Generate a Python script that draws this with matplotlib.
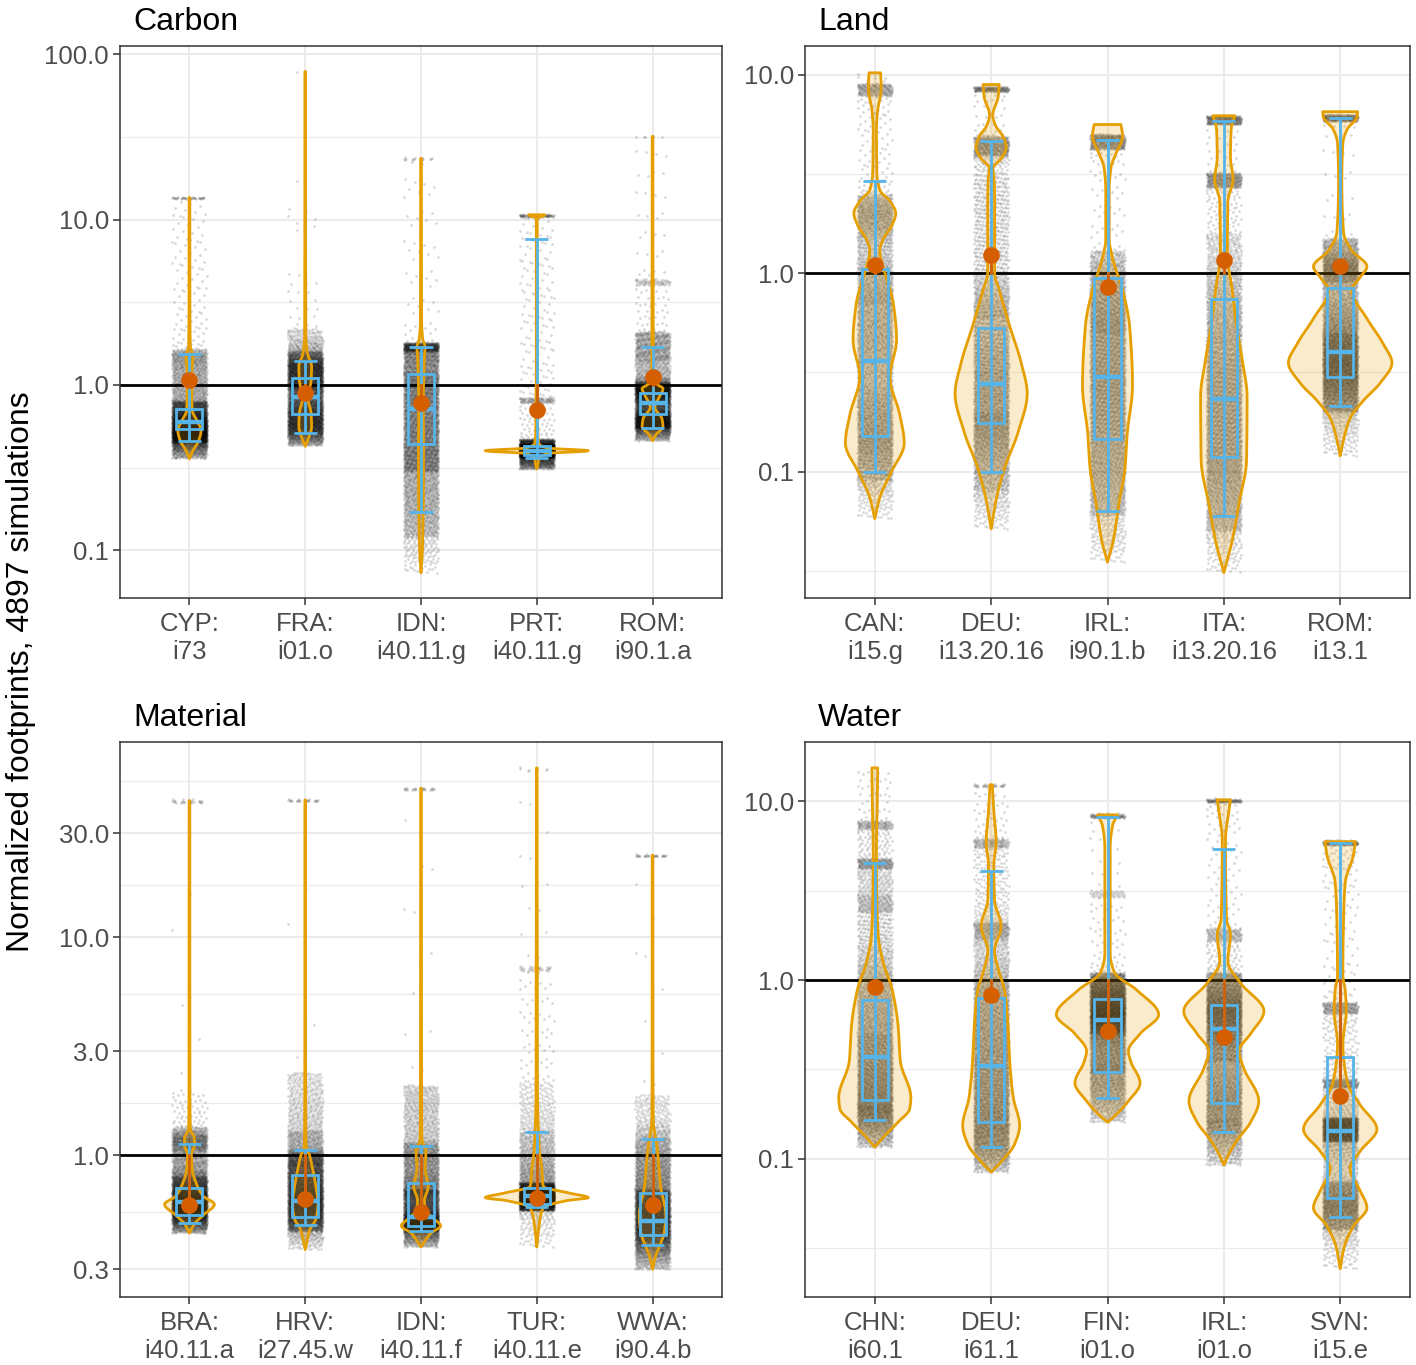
import numpy as np
import matplotlib.pyplot as plt
from matplotlib.colors import to_rgba
from matplotlib.patches import Rectangle

plt.rcParams['font.family'] = ['Liberation Sans', 'DejaVu Sans']

ORANGE = '#E69F00'
BLUE = '#56B4E9'
VERMILION = '#D55E00'
W, H = 1416, 1365

# ---------------- Carbon ----------------
carbon_labels = ['CYP:\ni73', 'FRA:\ni01.o', 'IDN:\ni40.11.g', 'PRT:\ni40.11.g', 'ROM:\ni90.1.a']
carbon_lo = [0.46, 0.51, 0.17, 0.36, 0.55]
carbon_q1 = [0.545, 0.67, 0.44, 0.376, 0.67]
carbon_med = [0.60, 0.85, 0.72, 0.40, 0.78]
carbon_q3 = [0.717, 1.10, 1.16, 0.43, 0.90]
carbon_hi = [1.53, 1.40, 1.69, 7.6, 1.69]
carbon_mean = [1.07, 0.90, 0.78, 0.71, 1.12]
# violin outline: (value, half width in category units)
carbon_violin = [
    [(0.357, 0), (0.40, 0.03), (0.46, 0.08), (0.53, 0.10), (0.60, 0.07), (0.70, 0.025), (0.85, 0.02),
     (1.2, 0.02), (1.5, 0.03), (1.7, 0.008), (3.0, 0.004), (13.6, 0.003)],
    [(0.425, 0), (0.48, 0.03), (0.56, 0.055), (0.68, 0.05), (0.85, 0.02), (1.05, 0.05), (1.3, 0.055),
     (1.55, 0.02), (2.0, 0.005), (78.8, 0.003)],
    [(0.073, 0), (0.1, 0.012), (0.2, 0.02), (0.4, 0.022), (0.8, 0.02), (1.2, 0.025), (1.5, 0.03),
     (1.7, 0.035), (1.9, 0.015), (2.5, 0.005), (23.5, 0.003)],
    [(0.31, 0), (0.33, 0.01), (0.36, 0.02), (0.385, 0.1), (0.40, 0.445), (0.415, 0.1), (0.44, 0.02),
     (0.5, 0.01), (0.8, 0.006), (1.5, 0.004), (10.2, 0.004), (10.5, 0.05), (10.7, 0.07)],
    [(0.46, 0), (0.5, 0.03), (0.56, 0.09), (0.63, 0.08), (0.73, 0.02), (0.85, 0.06), (0.95, 0.09),
     (1.02, 0.03), (1.15, 0.008), (4.0, 0.005), (4.2, 0.008), (4.4, 0.004), (31.9, 0.003)],
]
# simulation clouds: (low, high, count)
carbon_cloud = [
    [(0.36, 0.45, 500), (0.45, 0.80, 3400), (0.80, 1.65, 850), (1.65, 13.0, 110), (13.4, 13.8, 37)],
    [(0.43, 0.5, 300), (0.5, 1.6, 4300), (1.6, 2.2, 220), (2.2, 5.0, 20), (8.5, 12, 8), (17, 18, 2), (78, 80, 2)],
    [(0.073, 0.12, 120), (0.12, 0.3, 900), (0.3, 1.2, 2700), (1.2, 1.6, 500), (1.6, 1.8, 500), (1.8, 23, 60), (23, 24, 15)],
    [(0.31, 0.37, 600), (0.37, 0.44, 3300), (0.44, 0.47, 300), (0.47, 0.78, 60), (0.78, 0.84, 90), (0.84, 10.3, 150), (10.4, 10.8, 80)],
    [(0.46, 0.55, 400), (0.55, 1.05, 3300), (1.05, 1.4, 300), (1.4, 2.1, 500), (2.1, 4.0, 40), (4.0, 4.4, 60), (4.4, 31, 30), (31.5, 32.3, 6)],
]

# ---------------- Land ----------------
land_labels = ['CAN:\ni15.g', 'DEU:\ni13.20.16', 'IRL:\ni90.1.b', 'ITA:\ni13.20.16', 'ROM:\ni13.1']
land_lo = [0.10, 0.10, 0.063, 0.0595, 0.213]
land_q1 = [0.152, 0.175, 0.146, 0.119, 0.30]
land_med = [0.36, 0.275, 0.30, 0.233, 0.40]
land_q3 = [1.05, 0.53, 0.95, 0.74, 0.84]
land_hi = [2.9, 4.6, 4.68, 5.8, 6.05]
land_mean = [1.10, 1.24, 0.85, 1.17, 1.08]
land_violin = [
    [(0.058, 0), (0.074, 0.043), (0.10, 0.144), (0.139, 0.253), (0.193, 0.215), (0.30, 0.13), (0.46, 0.187),
     (0.70, 0.16), (1.01, 0.086), (1.3, 0.043), (1.47, 0.07), (1.73, 0.145), (2.0, 0.18), (2.3, 0.13),
     (2.62, 0.043), (3.2, 0.018), (5.3, 0.014), (6.5, 0.023), (8.5, 0.055), (10.2, 0.05)],
    [(0.0515, 0), (0.072, 0.043), (0.104, 0.115), (0.157, 0.23), (0.248, 0.31), (0.35, 0.26), (0.54, 0.16),
     (0.82, 0.07), (1.0, 0.03), (2.3, 0.03), (3.0, 0.025), (3.36, 0.015), (3.8, 0.09), (4.3, 0.13),
     (4.9, 0.1), (5.5, 0.04), (6.25, 0.014), (7.7, 0.06), (8.9, 0.07)],
    [(0.035, 0), (0.045, 0.05), (0.07, 0.1), (0.104, 0.15), (0.156, 0.17), (0.27, 0.215), (0.54, 0.19),
     (0.82, 0.13), (1.1, 0.06), (1.25, 0.035), (1.47, 0.015), (2.62, 0.015), (3.4, 0.03), (3.96, 0.07),
     (4.9, 0.13), (5.6, 0.115)],
    [(0.031, 0), (0.045, 0.072), (0.069, 0.13), (0.114, 0.195), (0.239, 0.2), (0.36, 0.16), (0.54, 0.11),
     (0.82, 0.072), (1.25, 0.03), (2.3, 0.035), (2.97, 0.08), (3.8, 0.057), (5.3, 0.063), (6.2, 0.095)],
    [(0.12, 0), (0.15, 0.035), (0.186, 0.086), (0.228, 0.2), (0.28, 0.345), (0.353, 0.445), (0.44, 0.37),
     (0.59, 0.23), (0.82, 0.1), (0.95, 0.17), (1.08, 0.23), (1.3, 0.1), (1.6, 0.029), (2.85, 0.014),
     (4.5, 0.023), (5.3, 0.06), (6.1, 0.145), (6.5, 0.15)],
]
land_cloud = [
    [(0.058, 0.09, 150), (0.09, 0.25, 1500), (0.25, 0.7, 1200), (0.7, 1.5, 800), (1.5, 2.5, 650), (2.5, 7.8, 100), (7.8, 9.0, 200), (9.0, 10.2, 10)],
    [(0.0515, 0.08, 150), (0.08, 0.2, 1300), (0.2, 0.6, 1500), (0.6, 1.0, 500), (1.0, 3.3, 500), (3.3, 3.9, 60), (3.9, 4.9, 400), (4.9, 8.2, 30), (8.2, 8.7, 150)],
    [(0.035, 0.06, 150), (0.06, 0.15, 1100), (0.15, 0.5, 1900), (0.5, 1.3, 1300), (1.3, 4.2, 60), (4.2, 5.0, 350)],
    [(0.031, 0.05, 120), (0.05, 0.12, 1100), (0.12, 0.45, 1900), (0.45, 1.0, 800), (1.0, 1.6, 250), (1.6, 2.7, 80), (2.7, 3.2, 300), (3.2, 5.5, 30), (5.6, 6.2, 250)],
    [(0.12, 0.2, 200), (0.2, 0.5, 2600), (0.5, 0.9, 900), (0.9, 1.5, 950), (1.5, 5.8, 30), (5.8, 6.3, 220)],
]

# ---------------- Material ----------------
mat_labels = ['BRA:\ni40.11.a', 'HRV:\ni27.45.w', 'IDN:\ni40.11.f', 'TUR:\ni40.11.e', 'WWA:\ni90.4.b']
mat_lo = [0.49, 0.48, 0.45, 0.58, 0.386]
mat_q1 = [0.53, 0.52, 0.475, 0.60, 0.43]
mat_med = [0.61, 0.62, 0.52, 0.65, 0.50]
mat_q3 = [0.71, 0.81, 0.75, 0.71, 0.67]
mat_hi = [1.13, 1.06, 1.10, 1.28, 1.19]
mat_mean = [0.59, 0.63, 0.55, 0.64, 0.59]
mat_violin = [
    [(0.44, 0), (0.485, 0.043), (0.53, 0.115), (0.596, 0.215), (0.65, 0.12), (0.72, 0.07), (0.87, 0.023),
     (1.01, 0.017), (1.11, 0.043), (1.2, 0.043), (1.32, 0.008), (2.0, 0.004), (42.4, 0.003)],
    [(0.37, 0), (0.46, 0.043), (0.51, 0.092), (0.596, 0.11), (0.72, 0.092), (0.87, 0.063), (1.01, 0.035),
     (1.09, 0.008), (2.0, 0.004), (42.7, 0.003)],
    [(0.38, 0), (0.44, 0.086), (0.475, 0.17), (0.51, 0.115), (0.56, 0.04), (0.62, 0.03), (0.72, 0.063),
     (0.87, 0.035), (1.05, 0.043), (1.18, 0.008), (2.0, 0.005), (48.3, 0.003)],
    [(0.38, 0), (0.49, 0.023), (0.575, 0.057), (0.62, 0.26), (0.64, 0.445), (0.67, 0.29), (0.72, 0.057),
     (0.87, 0.043), (1.05, 0.023), (2.0, 0.006), (7.0, 0.005), (7.2, 0.01), (7.4, 0.005), (59.9, 0.003)],
    [(0.30, 0), (0.34, 0.023), (0.38, 0.057), (0.44, 0.1), (0.53, 0.115), (0.72, 0.07), (1.05, 0.043),
     (1.47, 0.006), (3.0, 0.004), (23.8, 0.003)],
]
mat_cloud = [
    [(0.44, 0.5, 400), (0.5, 0.8, 3300), (0.8, 1.05, 500), (1.05, 1.35, 600), (1.35, 2.0, 60), (2.0, 30, 6), (41.5, 43.5, 25)],
    [(0.37, 0.45, 150), (0.45, 0.9, 3400), (0.9, 1.3, 900), (1.3, 2.4, 350), (2.4, 30, 5), (42, 43.5, 25)],
    [(0.38, 0.45, 400), (0.45, 0.7, 2800), (0.7, 1.1, 1000), (1.1, 1.6, 350), (1.6, 2.1, 200), (2.1, 46, 12), (47.5, 49, 25)],
    [(0.38, 0.56, 120), (0.56, 0.75, 3600), (0.75, 1.3, 700), (1.3, 2.2, 200), (2.2, 7, 60), (7, 7.4, 30), (7.4, 50, 15), (58, 61, 8)],
    [(0.30, 0.4, 600), (0.4, 0.7, 2700), (0.7, 1.2, 1000), (1.2, 1.9, 250), (1.9, 22, 10), (23.5, 24.2, 30)],
]

# ---------------- Water ----------------
water_labels = ['CHN:\ni60.1', 'DEU:\ni61.1', 'FIN:\ni01.o', 'IRL:\ni01.o', 'SVN:\ni15.e']
water_lo = [0.164, 0.116, 0.218, 0.141, 0.047]
water_q1 = [0.213, 0.16, 0.305, 0.206, 0.06]
water_med = [0.37, 0.33, 0.60, 0.53, 0.143]
water_q3 = [0.77, 0.79, 0.78, 0.72, 0.37]
water_hi = [4.5, 4.06, 8.2, 5.4, 5.85]
water_mean = [0.91, 0.82, 0.52, 0.48, 0.223]
water_violin = [
    [(0.116, 0), (0.133, 0.08), (0.16, 0.2), (0.19, 0.30), (0.22, 0.31), (0.35, 0.22), (0.555, 0.2),
     (0.88, 0.15), (1.27, 0.07), (1.75, 0.03), (2.8, 0.017), (5.5, 0.014), (8.8, 0.02), (15.4, 0.025)],
    [(0.084, 0), (0.096, 0.086), (0.12, 0.2), (0.153, 0.245), (0.22, 0.19), (0.35, 0.16), (0.555, 0.145),
     (0.88, 0.115), (1.1, 0.07), (1.46, 0.029), (2.0, 0.086), (2.8, 0.029), (4.4, 0.023), (5.9, 0.043),
     (8.8, 0.023), (12.4, 0.01)],
    [(0.16, 0), (0.175, 0.07), (0.21, 0.18), (0.265, 0.28), (0.35, 0.2), (0.40, 0.18), (0.5, 0.28),
     (0.64, 0.44), (0.88, 0.25), (1.1, 0.06), (1.4, 0.023), (5.5, 0.023), (7.3, 0.043), (8.4, 0.086)],
    [(0.092, 0), (0.106, 0.043), (0.127, 0.115), (0.16, 0.23), (0.21, 0.3), (0.32, 0.172), (0.40, 0.13),
     (0.5, 0.23), (0.67, 0.345), (0.96, 0.144), (1.27, 0.035), (1.8, 0.057), (2.2, 0.023), (6.1, 0.014),
     (8.8, 0.043), (10.2, 0.057)],
    [(0.0242, 0), (0.032, 0.035), (0.042, 0.115), (0.053, 0.23), (0.066, 0.172), (0.088, 0.086),
     (0.11, 0.172), (0.146, 0.316), (0.2, 0.172), (0.265, 0.063), (0.44, 0.023), (0.67, 0.052),
     (0.88, 0.043), (1.06, 0.023), (2.2, 0.029), (3.5, 0.043), (5.05, 0.115), (5.95, 0.13)],
]
water_cloud = [
    [(0.116, 0.2, 900), (0.2, 0.5, 1700), (0.5, 1.0, 800), (1.0, 2.4, 500), (2.4, 3.0, 200), (3.0, 4.2, 150), (4.2, 4.8, 200), (4.8, 7.0, 80), (7.0, 7.8, 120), (7.8, 15.4, 40)],
    [(0.084, 0.14, 700), (0.14, 0.4, 1800), (0.4, 1.0, 1200), (1.0, 1.7, 350), (1.7, 2.1, 250), (2.1, 5.5, 200), (5.5, 6.2, 120), (6.2, 12, 40), (12.1, 12.6, 30)],
    [(0.16, 0.3, 700), (0.3, 0.5, 1000), (0.5, 1.1, 2900), (1.1, 2.9, 60), (2.9, 3.2, 50), (3.2, 8.0, 20), (8.1, 8.6, 100)],
    [(0.092, 0.17, 700), (0.17, 0.35, 1100), (0.35, 1.1, 2600), (1.1, 1.65, 80), (1.65, 1.95, 150), (1.95, 9.8, 80), (9.9, 10.4, 100)],
    [(0.0242, 0.04, 150), (0.04, 0.075, 1200), (0.075, 0.125, 350), (0.125, 0.17, 1200), (0.17, 0.25, 200), (0.25, 0.28, 200), (0.28, 0.65, 150), (0.65, 0.75, 200), (0.75, 5.6, 120), (5.7, 6.1, 150)],
]

# R2 low-discrepancy sequence, used only to spread the jittered points
A1, A2 = 0.7548776662466927, 0.5698402909980532


def band_values(lo, hi, n, violin):
    # spread n values over [lo, hi], denser where the violin is wider
    v = np.array(violin, dtype=float)
    g = np.linspace(np.log10(lo), np.log10(hi), 120)
    w = np.interp(g, np.log10(v[:, 0]), v[:, 1], left=0, right=0)
    dens = w + 0.6 * w.mean() + 1e-6
    cdf = np.concatenate([[0], np.cumsum(0.5 * (dens[1:] + dens[:-1]))])
    cdf /= cdf[-1]
    fy = (0.5 + np.arange(n) * A2) % 1
    return 10 ** np.interp(fy, cdf, g)


def cloud_xy(pos, bands, violin, jitter=0.15):
    xs, ys = [], []
    for lo, hi, n in bands:
        k = np.arange(n)
        fx = (0.5 + k * A1) % 1
        xs.append(pos + (fx * 2 - 1) * jitter)
        ys.append(band_values(lo, hi, n, violin))
    return np.concatenate(xs), np.concatenate(ys)


def outline(violin, per=10):
    # monotone cubic (pchip) through the read outline, in log space
    v = np.array(violin, dtype=float)
    x, y = np.log10(v[:, 0]), v[:, 1]
    h = np.diff(x)
    d = np.diff(y) / h
    m = np.zeros(len(x))
    m[0], m[-1] = d[0], d[-1]
    for k in range(1, len(x) - 1):
        if d[k - 1] * d[k] > 0:
            w1 = 2 * h[k] + h[k - 1]
            w2 = h[k] + 2 * h[k - 1]
            m[k] = (w1 + w2) / (w1 / d[k - 1] + w2 / d[k])
    px, py = [], []
    t = np.linspace(0, 1, per, endpoint=False)
    for k in range(len(x) - 1):
        h00 = 2 * t ** 3 - 3 * t ** 2 + 1
        h10 = t ** 3 - 2 * t ** 2 + t
        h01 = -2 * t ** 3 + 3 * t ** 2
        h11 = t ** 3 - t ** 2
        px.append(x[k] + t * h[k])
        py.append(h00 * y[k] + h10 * h[k] * m[k] + h01 * y[k + 1] + h11 * h[k] * m[k + 1])
    px.append([x[-1]])
    py.append([y[-1]])
    return 10 ** np.concatenate(px), np.clip(np.concatenate(py), 0, None)


def draw_panel(rect, title, labels, lo, q1, med, q3, hi, mean, violins, clouds, ylim, majors):
    l, t, r, b = rect
    ax = fig.add_axes([l / W, 1 - b / H, (r - l) / W, (b - t) / H])
    ax.set_yscale('log')
    ax.set_xlim(0.4, 5.6)
    ax.set_ylim(*ylim)

    # grid like theme_bw
    majors = np.array(majors, dtype=float)
    ext = np.concatenate([[majors[0] ** 2 / majors[1]], majors, [majors[-1] ** 2 / majors[-2]]])
    minors = np.sqrt(ext[:-1] * ext[1:])
    for m in minors:
        ax.axhline(m, color='#EBEBEB', lw=0.9, zorder=0)
    for m in majors:
        ax.axhline(m, color='#EBEBEB', lw=1.5, zorder=0)
    for i in range(5):
        ax.axvline(i + 1, color='#EBEBEB', lw=1.5, zorder=0)

    for i in range(5):
        pos = i + 1
        x, y = cloud_xy(pos, clouds[i], violins[i])
        ax.scatter(x, y, s=4, c='black', alpha=0.15, linewidths=0, zorder=1)

    ax.axhline(1.0, color='black', lw=2.0, zorder=2)

    for i in range(5):
        pos = i + 1
        vy, vw = outline(violins[i])
        xs = np.concatenate([pos - vw, (pos + vw)[::-1]])
        ys = np.concatenate([vy, vy[::-1]])
        ax.fill(xs, ys, facecolor=to_rgba(ORANGE, 0.2), edgecolor=ORANGE, lw=2.0,
                joinstyle='round', zorder=3)

        # box + whiskers
        ax.plot([pos, pos], [lo[i], hi[i]], color=BLUE, lw=2.0, zorder=4, solid_capstyle='butt')
        ax.hlines([lo[i], hi[i]], pos - 0.1, pos + 0.1, color=BLUE, lw=2.0, zorder=4)
        ax.add_patch(Rectangle((pos - 0.112, q1[i]), 0.224, q3[i] - q1[i], fill=False,
                               edgecolor=BLUE, lw=2.0, zorder=4))
        ax.hlines(med[i], pos - 0.112, pos + 0.112, color=BLUE, lw=3.2, zorder=4)

        # mean and its distance to 1
        ax.plot([pos, pos], [1.0, mean[i]], color=VERMILION, lw=2.0, zorder=5)
        ax.plot(pos, mean[i], 'o', color=VERMILION, ms=12, mec='none', zorder=6)

    ax.set_xticks(range(1, 6))
    ax.set_xticklabels(labels, linespacing=1.2)
    ax.set_yticks(majors)
    ax.set_yticklabels(['%.1f' % m for m in majors])
    ax.yaxis.set_minor_locator(plt.NullLocator())
    ax.tick_params(axis='both', length=5, width=1.1, color='#333333', labelcolor='#4D4D4D',
                   labelsize=18.5)
    ax.tick_params(axis='x', pad=5)
    ax.tick_params(axis='y', pad=3)
    for s in ax.spines.values():
        s.set_color('#333333')
        s.set_linewidth(1.1)
        s.set_zorder(7)
    fig.text((l + 13) / W, 1 - (t - 16) / H, title, fontsize=23, ha='left', va='baseline')
    return ax


fig = plt.figure(figsize=(W / 100, H / 100), dpi=100)

draw_panel((120, 46, 722, 598), 'Carbon', carbon_labels, carbon_lo, carbon_q1, carbon_med, carbon_q3,
           carbon_hi, carbon_mean, carbon_violin, carbon_cloud, (0.0514, 112.4), [0.1, 1, 10, 100])
draw_panel((805, 46, 1410, 598), 'Land', land_labels, land_lo, land_q1, land_med, land_q3,
           land_hi, land_mean, land_violin, land_cloud, (0.0231, 13.92), [0.1, 1, 10])
draw_panel((120, 742, 722, 1297), 'Material', mat_labels, mat_lo, mat_q1, mat_med, mat_q3,
           mat_hi, mat_mean, mat_violin, mat_cloud, (0.224, 78.8), [0.3, 1, 3, 10, 30])
draw_panel((805, 742, 1410, 1297), 'Water', water_labels, water_lo, water_q1, water_med, water_q3,
           water_hi, water_mean, water_violin, water_cloud, (0.0168, 21.5), [0.1, 1, 10])

fig.text(21 / W, 1 - 672 / H, 'Normalized footprints, 4897 simulations', rotation=90,
         fontsize=23, ha='center', va='center')

fig.savefig('out.png', dpi=100)
